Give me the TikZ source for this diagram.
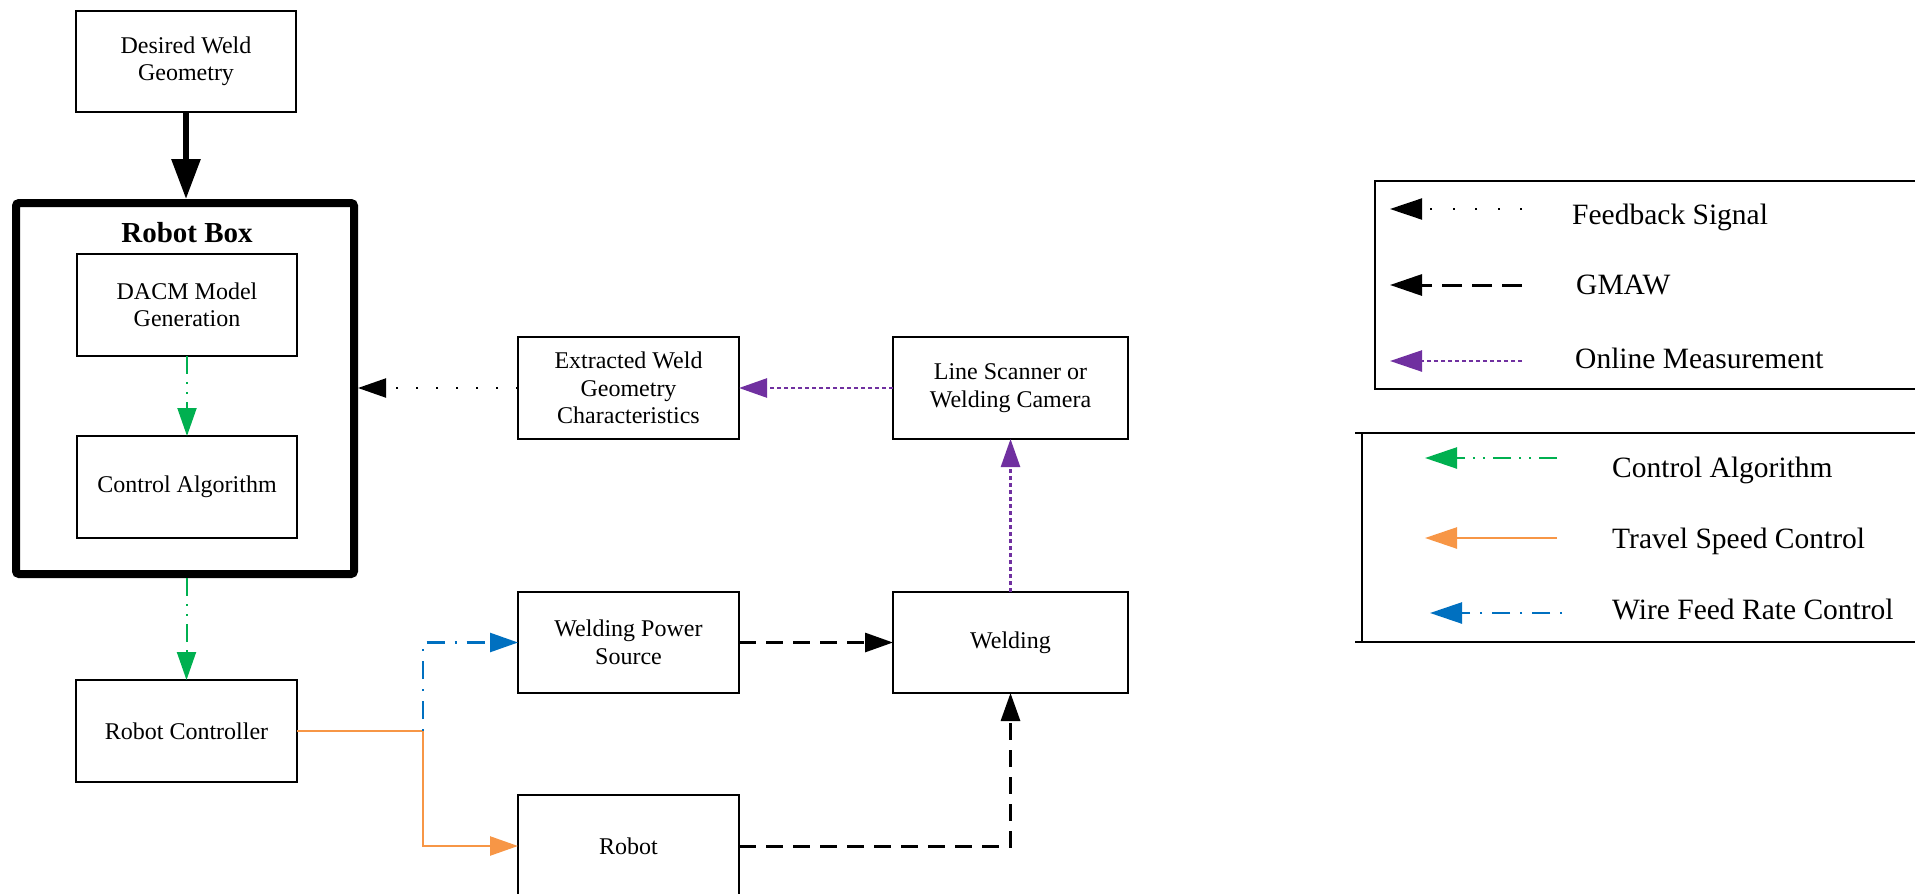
\documentclass[tikz,border=0pt]{standalone}
\usepackage{fontspec}
\setmainfont{Liberation Serif}
\usetikzlibrary{arrows.meta}
\definecolor{cagreen}{HTML}{00B050}
\definecolor{tsorange}{HTML}{F79646}
\definecolor{wfblue}{HTML}{0070C0}
\definecolor{ompurple}{HTML}{7030A0}
\tikzset{
  blk/.style={draw, line width=1.2pt, inner sep=0pt, outer sep=0pt, align=center,
    minimum width=221pt, minimum height=102pt, font=\fontsize{24}{27.5}\selectfont},
  outerbox/.style={draw, line width=8pt, rounded corners=3pt, inner sep=0pt,
    outer sep=4pt, minimum width=338pt, minimum height=371pt},
  tip/.style={-{Triangle[length=28pt,width=19pt]}},
  legtip/.style={-{Triangle[length=32pt,width=21pt]}},
  bigtip/.style={line width=6pt, -{Triangle[length=40pt,width=28pt]}},
  feedback/.style={black, line width=2pt, dash pattern=on 2pt off 18pt},
  gmaw/.style={black, line width=3pt, dash pattern=on 17pt off 10pt},
  online/.style={ompurple, line width=2.5pt, dash pattern=on 4pt off 3pt},
  ctrlalg/.style={cagreen, line width=2pt,
    dash pattern=on 18pt off 8pt on 2pt off 8pt on 2pt off 8pt},
  travel/.style={tsorange, line width=2.5pt},
  wire/.style={wfblue, line width=2.5pt, dash pattern=on 2pt off 10pt on 18pt off 10pt},
  legframe/.style={line width=2.5pt},
  legtext/.style={anchor=west, inner sep=0pt, font=\fontsize{29.5}{33}\selectfont},
}
\begin{document}
\begin{tikzpicture}[x=1pt, y=-1pt]
\useasboundingbox (0,0) rectangle (1915,894);
\clip (0,0) rectangle (1915,894);

% blocks
\node[blk, minimum width=220pt, minimum height=101pt] (des) at (186,61.5) {Desired Weld\\Geometry};
\node[outerbox] (rbox) at (185,388.5) {};
\node[font=\bfseries\fontsize{29}{32}\selectfont, inner sep=0pt] (rtitle) at (187,233) {Robot Box};
\node[blk, minimum width=220pt] (dacm) at (187,305) {DACM Model\\Generation};
\node[blk, minimum width=220pt] (ctrl) at (187,487) {Control Algorithm};
\node[blk] (rc) at (186.5,731) {Robot Controller};
\node[blk] (ext) at (628.5,388) {Extracted Weld\\Geometry\\Characteristics};
\node[blk, minimum width=235pt] (lsc) at (1010.5,388) {Line Scanner or\\Welding Camera};
\node[blk, minimum height=101pt] (wps) at (628.5,642.5) {Welding Power\\Source};
\node[blk, minimum width=235pt, minimum height=101pt] (weld) at (1010.5,642.5) {Welding};
\node[blk] (rob) at (628.5,846) {Robot};
\coordinate (branch) at (423,731);

% connectors
\draw[bigtip] (des.south) -- (des.south |- rbox.north);
\draw[ctrlalg, tip] (dacm.south) -- (ctrl.north);
\draw[ctrlalg, tip] (rc.north |- rbox.south) -- (rc.north);
\draw[feedback, tip] (ext.west) -- (rbox.east |- ext.west);
\draw[online, tip] (lsc.west) -- (ext.east);
\draw[online, tip] (weld.north) -- (lsc.south);
\draw[gmaw, tip] (wps.east) -- (weld.west);
\draw[gmaw, tip] (rob.east) -| (weld.south);
\draw[travel, tip] (rc.east) -- (branch) |- (rob.west);
\draw[wire, tip] (branch) |- (wps.west);

% legend frames
\draw[legframe] (1375,181) rectangle (1935,389);
\draw[legframe] (1355,433) -- (1935,433);
\draw[legframe] (1355,642) -- (1935,642);
\draw[legframe] (1362,433) -- (1362,642);

% legend entries
\coordinate (fbR) at (1522,209); \coordinate (fbL) at (1390,209);
\draw[feedback, dash pattern=on 2pt off 20.5pt, legtip] (fbR) -- (fbL);
\node[legtext] (fbT) at (1572,217) {Feedback Signal};

\coordinate (gmR) at (1522,285); \coordinate (gmL) at (1390,285);
\draw[gmaw, dash pattern=on 20pt off 10pt, legtip] (gmR) -- (gmL);
\node[legtext] (gmT) at (1576,285) {GMAW};

\coordinate (omR) at (1522,361); \coordinate (omL) at (1390,361);
\draw[online, legtip] (omR) -- (omL);
\node[legtext] (omT) at (1575,358) {Online Measurement};

\coordinate (caR) at (1557,458); \coordinate (caL) at (1425,458);
\draw[ctrlalg, line width=2.5pt, legtip] (caR) -- (caL);
\node[legtext] (caT) at (1612,470) {Control Algorithm};

\coordinate (tsR) at (1557,538); \coordinate (tsL) at (1425,538);
\draw[travel, legtip] (tsR) -- (tsL);
\node[legtext] (tsT) at (1612,541) {Travel Speed Control};

\coordinate (wfR) at (1562,613); \coordinate (wfL) at (1430,613);
\draw[wire, legtip] (wfR) -- (wfL);
\node[legtext] (wfT) at (1612,609) {Wire Feed Rate Control};
\end{tikzpicture}
\end{document}
